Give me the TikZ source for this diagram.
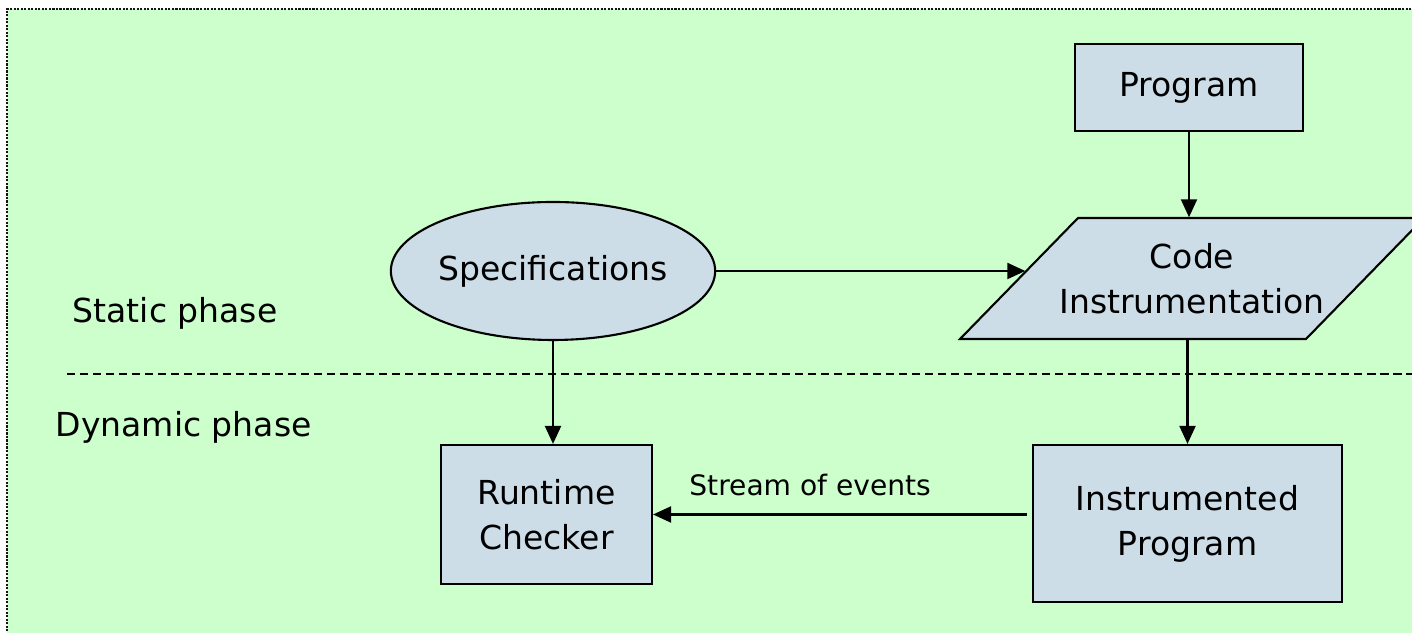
\documentclass[tikz,border=0pt]{standalone}
\usepackage{fontspec}
\setmainfont{DejaVu Sans}
\usetikzlibrary{shapes.geometric, arrows.meta, positioning, calc}
\definecolor{phasegreen}{RGB}{204,255,204}
\definecolor{boxblue}{RGB}{204,221,232}
\definecolor{edgegray}{RGB}{20,20,20}
\tikzset{
  block/.style = {rectangle, draw, fill=boxblue, line width=0.6pt,
    align=center, inner sep=0pt, font=\fontsize{9.4}{12.8}\selectfont},
  specblock/.style = {ellipse, draw, fill=boxblue, line width=0.6pt,
    inner sep=0pt, font=\fontsize{9.4}{12.8}\selectfont},
  iotext/.style = {rectangle, align=center, inner sep=0pt,
    font=\fontsize{9.4}{12.8}\selectfont},
  ioframe/.style = {draw, fill=boxblue, line width=0.6pt, line join=miter},
  phase/.style = {anchor=base west, inner sep=0pt, font=\fontsize{9.4}{12.8}\selectfont},
  arrow/.style = {line width=0.6pt, -{Triangle[length=0.18cm, width=0.16cm]}},
  divider/.style = {line width=0.45pt, dash pattern=on 2.3pt off 1.4pt},
}

\begin{document}
\begin{tikzpicture}
  \useasboundingbox (0,0) rectangle (14.12,6.33);

  % background panel, only top and left border in view
  \fill[phasegreen] (0.07,-0.3) rectangle (14.5,6.24);
  \draw[edgegray, line width=0.6pt, dash pattern=on 0.6pt off 0.4pt]
    (0.07,-0.3) -- (0.07,6.24) -- (14.5,6.24);

  % static / dynamic split
  \draw[divider] (0.67,2.59) -- (14.3,2.59);
  \node[phase] (static)  at (0.72,3.10) {Static phase};
  \node[phase] (dynamic) at (0.55,1.96) {Dynamic phase};

  % slanted box: frame first, text node on top
  \coordinate (codemid) at (11.92,3.545);
  \draw[ioframe] ($(codemid)+(-2.32,-0.605)$) -- ++(3.46,0) -- ++(1.18,1.21)
    -- ++(-3.46,0) -- cycle;
  \node[iotext, minimum width=3.46cm, minimum height=1.21cm] (code) at (codemid)
    {Code\\Instrumentation};

  \node[block, minimum width=2.28cm, minimum height=0.87cm] (prog) at (11.89,5.455) {Program};
  \node[specblock, minimum width=2.92cm, minimum height=1.38cm] (spec) at (5.53,3.62) {Specifications};
  \node[block, minimum width=2.11cm, minimum height=1.39cm] (rc) at (5.465,1.185) {Runtime\\Checker};
  \node[block, minimum width=3.09cm, minimum height=1.57cm] (ip) at (11.875,1.095)
    {Instrumented\\Program};

  \coordinate (codein) at ($(spec.east -| code.west)+(0.07,0)$);
  \coordinate (evsrc)  at ($(ip.west |- rc.east)+(-0.05,0)$);

  \draw[arrow] (prog.south) -- (prog.south |- code.north);
  \draw[arrow] (spec.east) -- (codein);
  \draw[arrow] (spec.south) -- (spec.south |- rc.north);
  \draw[arrow] (ip.north |- code.south) -- (ip.north);
  \draw[arrow] (evsrc) -- (rc.east)
    node[above=0.06cm, pos=0.58, font=\fontsize{8}{9.6}\selectfont] {Stream of events};
\end{tikzpicture}
\end{document}
